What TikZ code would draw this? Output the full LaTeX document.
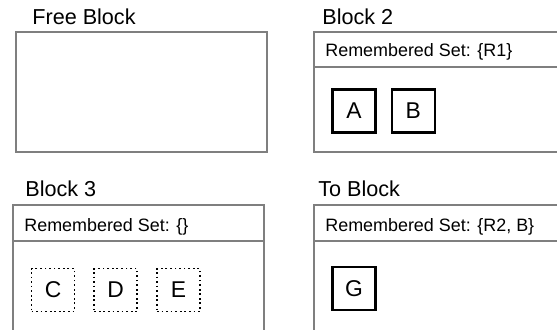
\documentclass[tikz,border=0pt]{standalone}
\usepackage{fontspec}
\setmainfont{Liberation Sans}
\usepackage{tikz}
\usetikzlibrary{positioning}
\definecolor{frame}{HTML}{7F7F7F}
\tikzset{
  blocktitle/.style={anchor=base west,inner sep=0pt,font=\fontsize{12.3}{14}\selectfont},
  setlabel/.style={anchor=base west,inner sep=0pt,font=\fontsize{10.2}{12}\selectfont},
  blockbox/.style={draw=frame,line width=0.75pt},
  obj/.style={rectangle,draw=black,line width=1.3pt,minimum size=0.86cm,
    inner sep=0pt,font=\fontsize{13}{15}\selectfont},
  deadobj/.style={obj,line width=1pt,dash pattern=on 1pt off 1.6pt},
}
\begin{document}
\begin{tikzpicture}[x=0.02cm,y=-0.02cm]
  \useasboundingbox (0,0) rectangle (557,330);
  \clip (0,0) rectangle (557,330);
  % free block
  \node[blocktitle] (freettl) at (32,25) {Free Block};
  \draw[blockbox] (16,32) rectangle (267,152);
  % block 2
  \node[blocktitle] (b2ttl) at (322,25) {Block 2};
  \draw[blockbox] (314,32) rectangle (600,152);
  \draw[blockbox] (314,67) -- (600,67);
  \node[setlabel] (b2set) at (325,57) {Remembered Set: \{R1\}};
  \node[obj] (a) at (354,111) {A};
  \node[obj,right=0.28cm of a] (b) {B};
  % block 3
  \node[blocktitle] (b3ttl) at (25,197) {Block 3};
  \draw[blockbox] (13,205) rectangle (264,360);
  \draw[blockbox] (13,241) -- (264,241);
  \node[setlabel] (b3set) at (24,232) {Remembered Set: \{\}};
  \node[deadobj] (c) at (53,290) {C};
  \node[deadobj,right=0.36cm of c] (d) {D};
  \node[deadobj,right=0.36cm of d] (e) {E};
  % to block
  \node[blocktitle] (tottl) at (318,197) {To Block};
  \draw[blockbox] (314,205) rectangle (600,360);
  \draw[blockbox] (314,241) -- (600,241);
  \node[setlabel] (toset) at (325,232) {Remembered Set: \{R2, B\}};
  \node[obj] (g) at (354,288.5) {G};
\end{tikzpicture}
\end{document}
